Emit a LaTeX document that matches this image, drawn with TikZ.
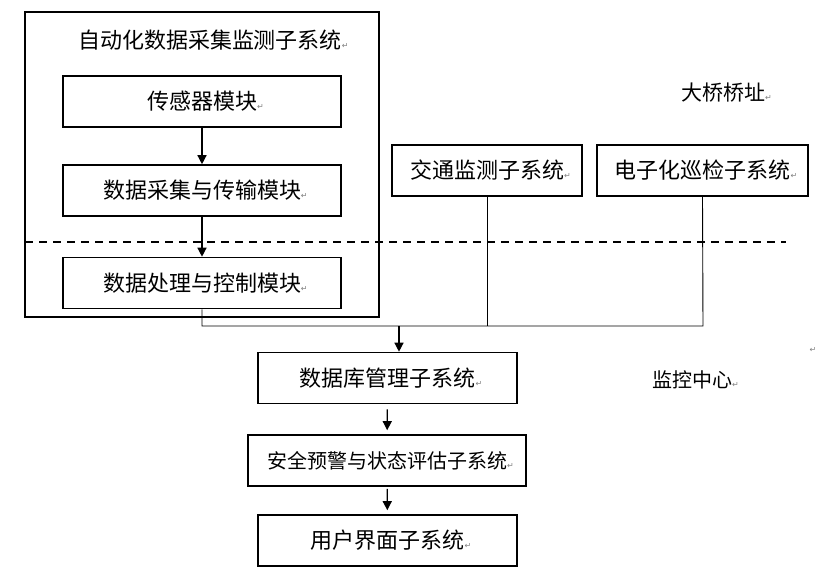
\documentclass[tikz,border=0pt]{standalone}
\usepackage{fontspec}
\setmainfont{Noto Sans CJK SC}
\newfontfamily\dejavu{DejaVu Sans}
\usetikzlibrary{arrows.meta}
\newcommand\retmark{\rlap{\fontsize{8}{8}\selectfont\dejavu\color{gray}↵}}
\tikzset{
  box/.style={draw, line width=1.6pt, minimum width=#1, minimum height=51pt, inner sep=0pt, font=\fontsize{22}{22}\selectfont},
  box/.default=278pt,
  conn/.style={line width=0.9pt},
  arr/.style={line width=1.3pt, -{Triangle[length=9pt,width=9pt]}},
  lbl/.style={inner sep=0pt, font=\fontsize{21}{21}\selectfont}
}
\begin{document}
\begin{tikzpicture}[x=1pt,y=-1pt]
\useasboundingbox (0,0) rectangle (839,582);
% outer subsystem frame
\node[draw, line width=1.3pt, minimum width=354pt, minimum height=305pt, inner sep=0pt] (outer) at (202,164.5) {};
\node[lbl, font=\fontsize{22}{22}\selectfont] (title) at (210,40) {自动化数据采集监测子系统\retmark};
\node[box] (sensor) at (202,101.5) {传感器模块\retmark};
\node[box] (acq) at (202,190.5) {数据采集与传输模块\retmark};
\node[box] (proc) at (202,283) {数据处理与控制模块\retmark};
\node[box=190pt] (traffic) at (487,170.5) {交通监测子系统\retmark};
\node[box=211pt] (insp) at (702.5,170.5) {电子化巡检子系统\retmark};
\node[lbl] (site) at (723,93) {大桥桥址\retmark};
\node[box=259pt] (db) at (387.5,378) {数据库管理子系统\retmark};
\node[box=278pt, font=\fontsize{20}{20}\selectfont] (safe) at (387,460.5) {安全预警与状态评估子系统\retmark};
\node[box=259pt] (ui) at (387.5,540.5) {用户界面子系统\retmark};
\node[lbl, font=\fontsize{20}{20}\selectfont] (center) at (692,380) {监控中心\retmark};
\node[inner sep=0pt] (mark) at (813,350) {\fontsize{8}{8}\selectfont\dejavu\color{gray}↵};
% dashed boundary
\coordinate (dl) at (25,242);
\coordinate (dr) at (786,242);
\draw[line width=1.3pt, dash pattern=on 8pt off 6pt] (dl) -- (dr);
% arrows in the frame
\draw[arr] (sensor) -- (acq);
\draw[arr] (acq) -- (proc);
% bus
\coordinate (bus) at (703,326);
\draw[conn] (proc.south) |- (bus) -- (insp.south);
\draw[conn] (traffic.south) -- (traffic.south |- bus);
\coordinate (ja) at (399,326);
\draw[arr] (ja) -- (ja |- db.north);
% center chain
\draw[arr, shorten <=5pt, shorten >=4pt] (db) -- (safe);
\draw[arr, shorten <=2pt, shorten >=4pt] (safe) -- (ui);
\end{tikzpicture}
\end{document}
